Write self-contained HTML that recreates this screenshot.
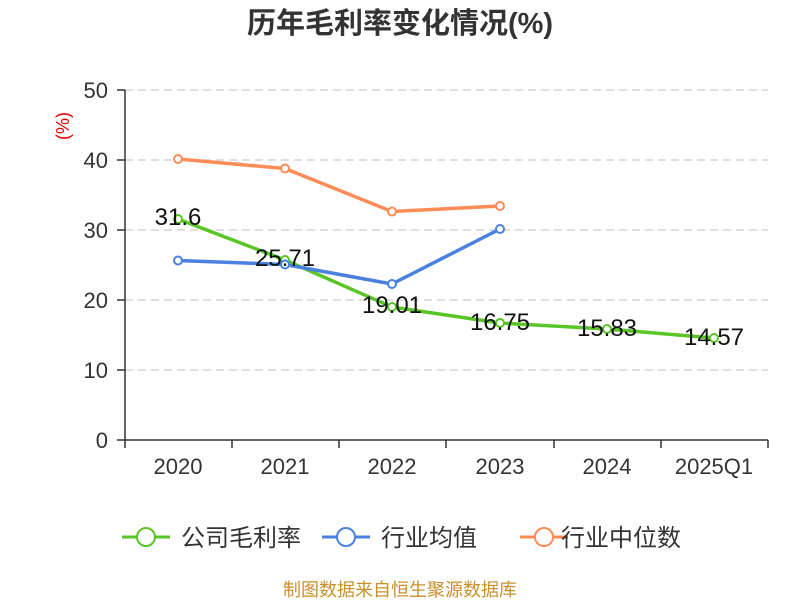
<!DOCTYPE html>
<html><head><meta charset="utf-8"><style>
body{margin:0;background:#fff;}
svg text{font-family:"Liberation Sans","Noto Sans CJK SC",sans-serif;}
</style></head><body>
<svg width="800" height="600" xmlns="http://www.w3.org/2000/svg">
<text x="400" y="33" text-anchor="middle" font-size="29" font-weight="bold" fill="#333">历年毛利率变化情况(%)</text>
<g stroke="#ccc" stroke-dasharray="8,5" stroke-width="1.3">
<line x1="125" y1="90" x2="768" y2="90"/><line x1="125" y1="160" x2="768" y2="160"/>
<line x1="125" y1="230" x2="768" y2="230"/><line x1="125" y1="300" x2="768" y2="300"/>
<line x1="125" y1="370" x2="768" y2="370"/></g>
<g stroke="#333" stroke-width="1.5">
<line x1="125" y1="90" x2="125" y2="440"/><line x1="125" y1="440" x2="768" y2="440"/>
<line x1="117" y1="90" x2="125" y2="90"/><line x1="117" y1="160" x2="125" y2="160"/><line x1="117" y1="230" x2="125" y2="230"/><line x1="117" y1="300" x2="125" y2="300"/><line x1="117" y1="370" x2="125" y2="370"/><line x1="117" y1="440" x2="125" y2="440"/>
<line x1="125" y1="440" x2="125" y2="448"/><line x1="232" y1="440" x2="232" y2="448"/><line x1="339" y1="440" x2="339" y2="448"/><line x1="446" y1="440" x2="446" y2="448"/><line x1="554" y1="440" x2="554" y2="448"/><line x1="661" y1="440" x2="661" y2="448"/><line x1="768" y1="440" x2="768" y2="448"/>
</g>
<g font-size="22" fill="#333" text-anchor="end">
<text x="108" y="98">50</text><text x="108" y="168">40</text><text x="108" y="238">30</text><text x="108" y="308">20</text><text x="108" y="378">10</text><text x="108" y="448">0</text></g>
<g font-size="22" fill="#333" text-anchor="middle">
<text x="178" y="474">2020</text><text x="285" y="474">2021</text><text x="392" y="474">2022</text><text x="500" y="474">2023</text><text x="607" y="474">2024</text><text x="714" y="474">2025Q1</text></g>
<text transform="translate(69,126) rotate(-90)" font-size="18" fill="#e00" text-anchor="middle">(%)</text>
<g fill="none" stroke-width="3.5" stroke-linejoin="round">
<polyline stroke="#5ac626" points="178,219 285,260 392,307 500,323 607,329 714,338"/>
<polyline stroke="#4a80e0" points="178,260.5 285,264.5 392,284 500,229"/>
<polyline stroke="#fd8c57" points="178,159 285,168.5 392,211.5 500,206"/>
</g>
<g fill="#fff" stroke-width="2">
<g stroke="#5ac626"><circle cx="178" cy="219" r="4"/><circle cx="285" cy="260" r="4"/><circle cx="392" cy="307" r="4"/><circle cx="500" cy="323" r="4"/><circle cx="607" cy="329" r="4"/><circle cx="714" cy="338" r="4"/></g>
<g stroke="#4a80e0"><circle cx="178" cy="260.5" r="4"/><circle cx="285" cy="264.5" r="4"/><circle cx="392" cy="284" r="4"/><circle cx="500" cy="229" r="4"/></g>
<g stroke="#fd8c57"><circle cx="178" cy="159" r="4"/><circle cx="285" cy="168.5" r="4"/><circle cx="392" cy="211.5" r="4"/><circle cx="500" cy="206" r="4"/></g>
</g>
<g font-size="24" fill="#111" text-anchor="middle">
<text x="178" y="225">31.6</text><text x="285" y="266">25.71</text><text x="392" y="313">19.01</text><text x="500" y="330">16.75</text><text x="607" y="336">15.83</text><text x="714" y="345">14.57</text></g>
<g stroke-width="3"><line x1="122" y1="537" x2="170" y2="537" stroke="#5ac626"/><circle cx="146" cy="537" r="9" fill="#fff" stroke="#5ac626" stroke-width="2"/>
<line x1="322" y1="537" x2="370" y2="537" stroke="#4a80e0"/><circle cx="346" cy="537" r="9" fill="#fff" stroke="#4a80e0" stroke-width="2"/>
<line x1="520" y1="537" x2="568" y2="537" stroke="#fd8c57"/><circle cx="544" cy="537" r="9" fill="#fff" stroke="#fd8c57" stroke-width="2"/></g>
<g font-size="24" fill="#333"><text x="181" y="546">公司毛利率</text><text x="381" y="546">行业均值</text><text x="561" y="546">行业中位数</text></g>
<text x="400" y="596" text-anchor="middle" font-size="18" fill="#c8902a">制图数据来自恒生聚源数据库</text>
</svg>
</body></html>
